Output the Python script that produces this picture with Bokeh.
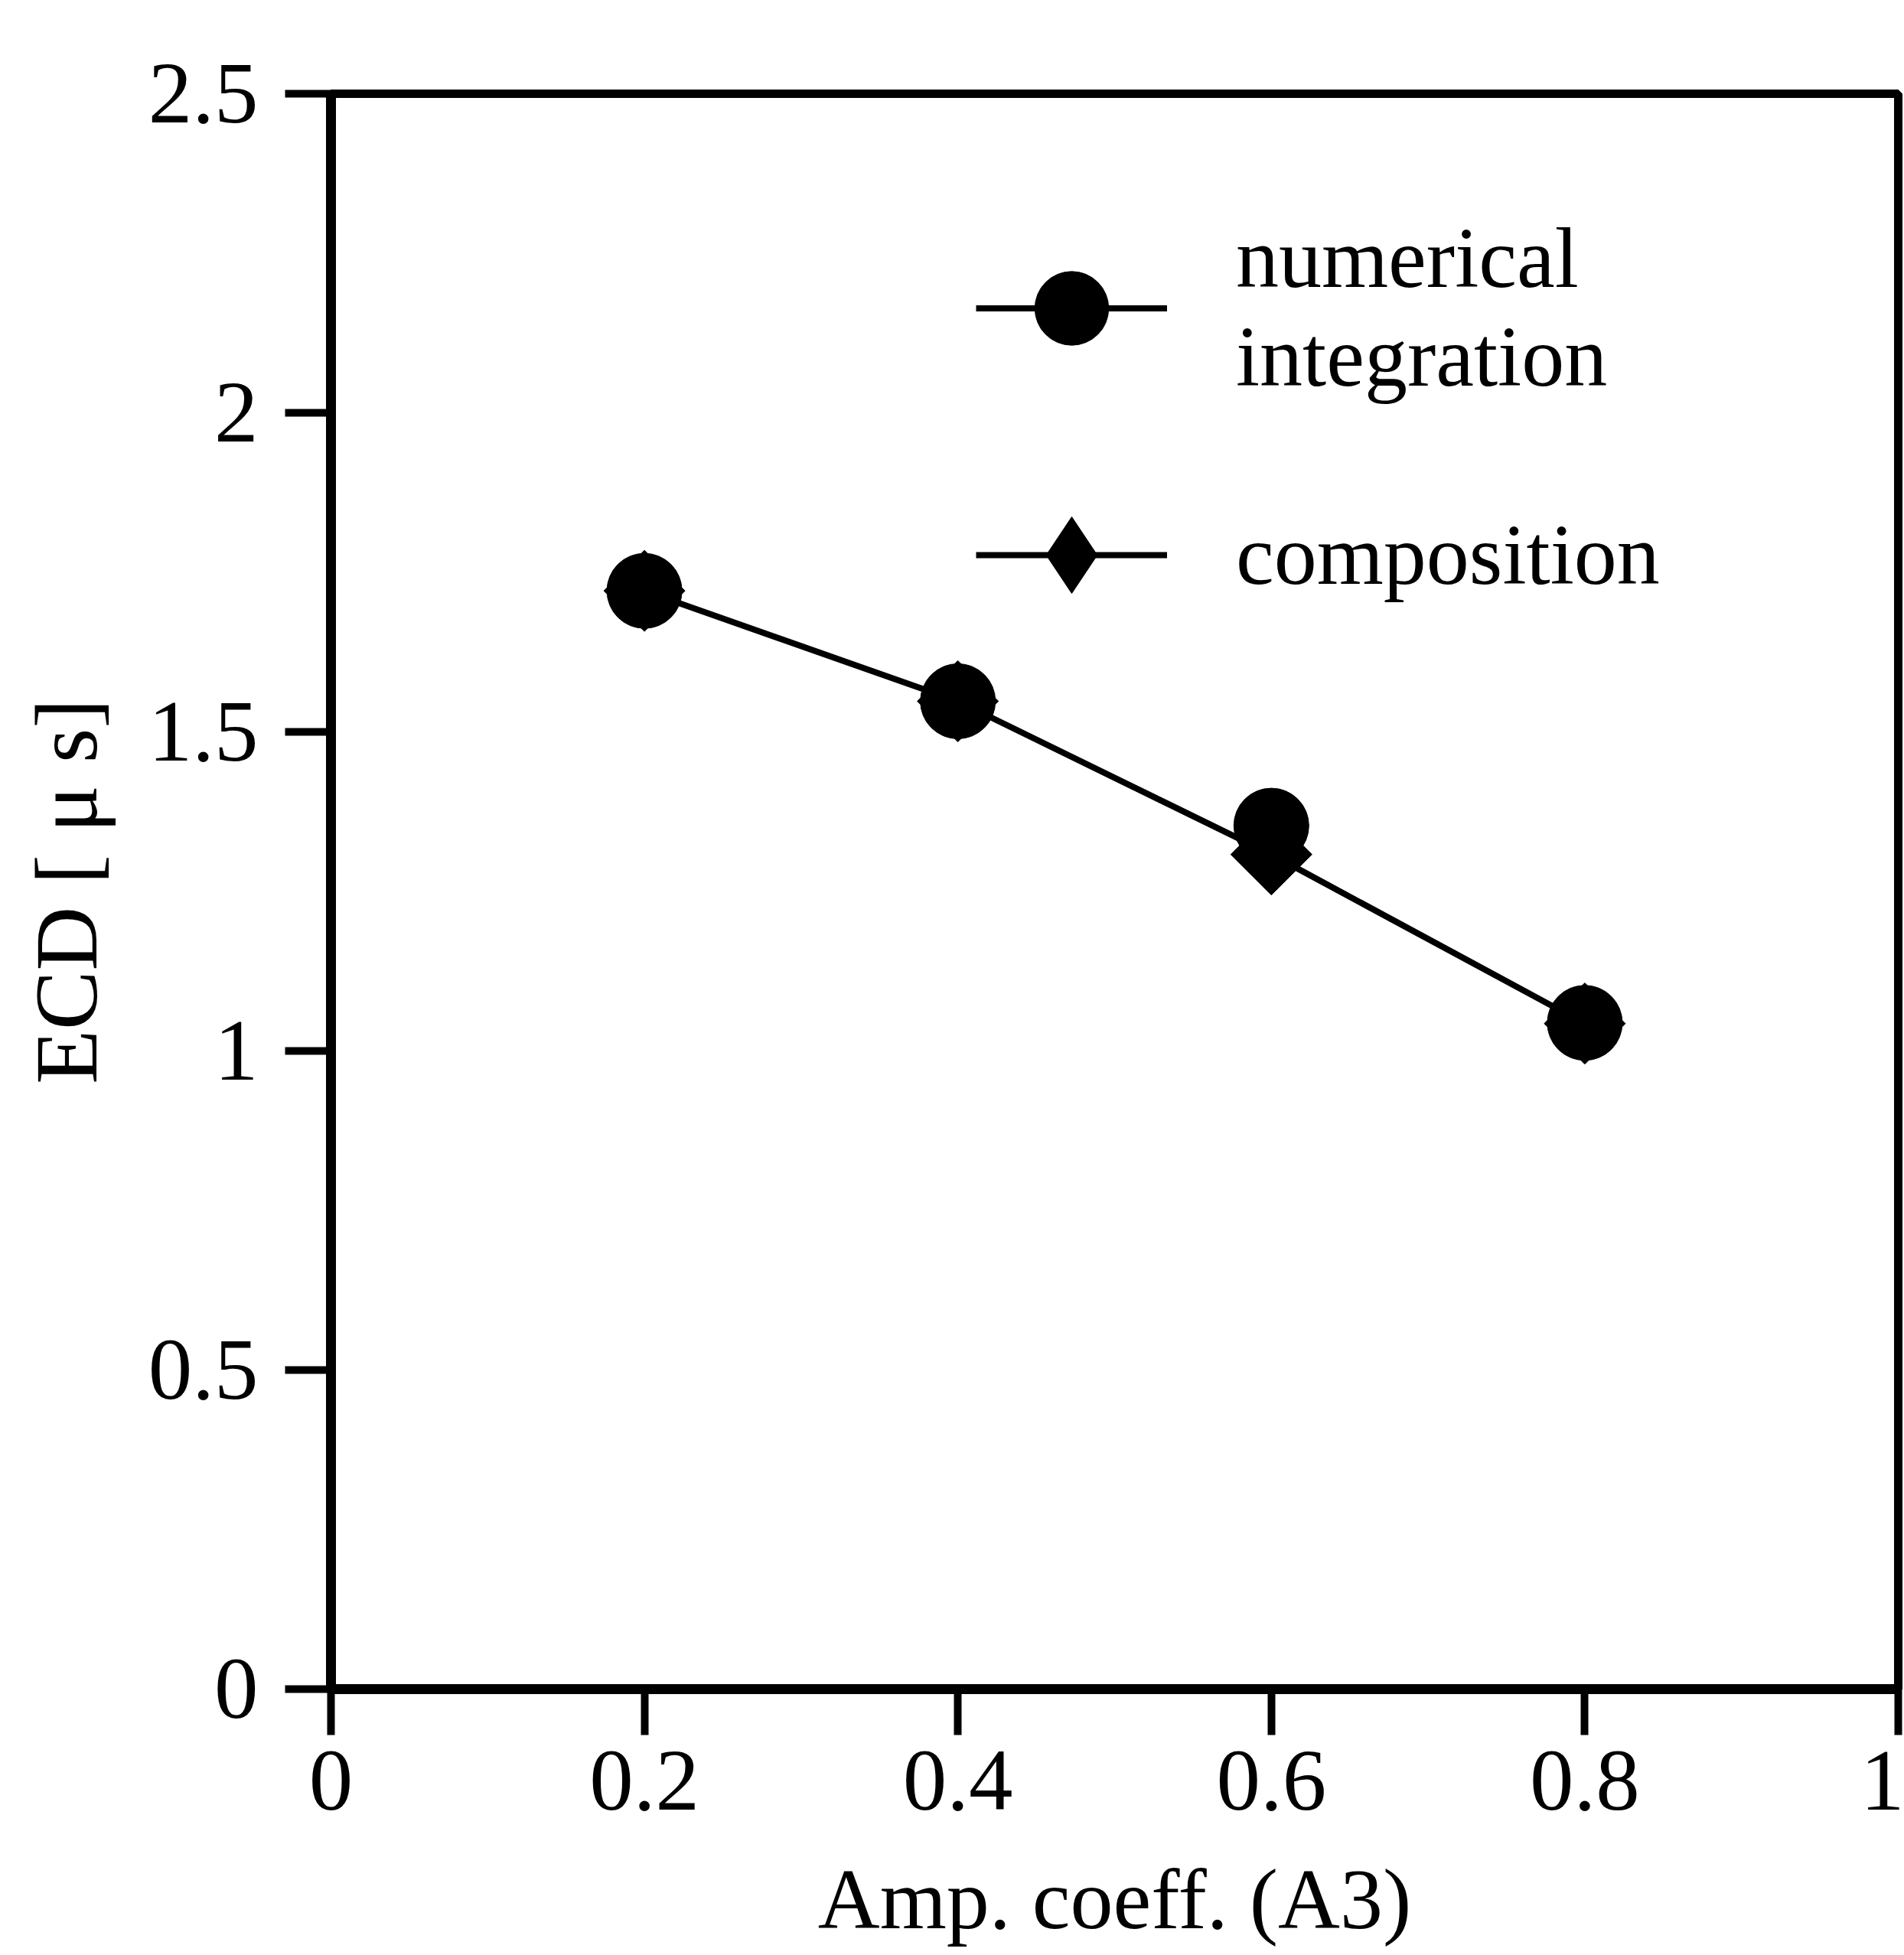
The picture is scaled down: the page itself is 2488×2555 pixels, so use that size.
import math
from bokeh.plotting import figure
from bokeh.models import Range1d, FixedTicker, Legend, LegendItem
from bokeh.embed import file_html
from bokeh.resources import INLINE

# ---- data ----
amp_coeff = [0.2, 0.4, 0.6, 0.8]
ecd_numerical = [1.721, 1.548, 1.353, 1.044]
ecd_composition = [1.721, 1.548, 1.308, 1.043]

x_ticks = [0, 0.2, 0.4, 0.6, 0.8, 1]
x_tick_labels = ["0", "0.2", "0.4", "0.6", "0.8", "1"]
y_ticks = [0, 0.5, 1, 1.5, 2, 2.5]
y_tick_labels = ["0", "0.5", "1", "1.5", "2", "2.5"]
x_title = "Amp. coeff. (A3)"
y_title = "ECD [ \u03bc s]"
series_labels = ["numerical\nintegration", "composition"]

FONT = "Liberation Serif"

p = figure(width=2488, height=2555, output_backend="svg", toolbar_location=None,
           x_range=Range1d(0, 1), y_range=Range1d(0, 2.5),
           min_border_left=432, min_border_right=8, min_border_top=122,
           min_border_bottom=348, background_fill_color="white",
           border_fill_color="white")

p.xgrid.visible = False
p.ygrid.visible = False
p.outline_line_color = "black"
p.outline_line_width = 11

for ax, ticks, labels in ((p.xaxis[0], x_ticks, x_tick_labels), (p.yaxis[0], y_ticks, y_tick_labels)):
    ax.ticker = FixedTicker(ticks=ticks)
    ax.major_label_overrides = {t: l for t, l in zip(ticks, labels)}
    ax.minor_tick_line_color = None
    ax.major_tick_in = 0
    ax.major_tick_out = 60
    ax.major_tick_line_width = 10
    ax.major_tick_line_color = "black"
    ax.axis_line_width = 13
    ax.axis_line_color = "black"
    ax.major_label_text_font = FONT
    ax.major_label_text_font_size = "115px"
    ax.major_label_text_color = "black"
    ax.axis_label_text_font = FONT
    ax.axis_label_text_font_style = "normal"
    ax.axis_label_text_color = "black"

p.xaxis.axis_label = x_title
p.yaxis.axis_label = y_title
p.xaxis.axis_label_text_font_size = "112px"
p.yaxis.axis_label_text_font_size = "116px"
p.xaxis.major_label_standoff = 22
p.yaxis.major_label_standoff = 35
p.xaxis.axis_label_standoff = 52
p.yaxis.axis_label_standoff = 40

comp_line = p.line(amp_coeff, ecd_composition, line_color="black", line_width=8)
num_pts = p.scatter(amp_coeff, ecd_numerical, marker="circle", size=98,
                    fill_color="black", line_color="black")
# diamond key (used by the legend); it lies wholly inside the turned squares below
comp_key = p.scatter(amp_coeff, ecd_composition, marker="diamond", size=96,
                     fill_color="black", line_color="black")
# composition markers: diamonds drawn as squares turned by 45 degrees
comp_pts = p.scatter(amp_coeff, ecd_composition, marker="square", size=75,
                     angle=math.pi / 4, fill_color="black", line_color="black")


def make_legend(label, renderers, glyph_h, loc):
    lg = Legend(items=[LegendItem(label=label, renderers=renderers)], location=loc)
    lg.glyph_width = 250
    lg.glyph_height = glyph_h
    lg.label_standoff = 90
    lg.label_text_font = FONT
    lg.label_text_font_size = "112px"
    lg.label_text_line_height = 1.5
    lg.label_text_color = "black"
    lg.padding = 0
    lg.margin = 0
    lg.spacing = 0
    lg.border_line_alpha = 0
    lg.background_fill_alpha = 0
    return lg


p.add_layout(make_legend(series_labels[0], [comp_line, num_pts], 241, (843, 1676)), "center")
p.add_layout(make_legend(series_labels[1], [comp_line, comp_key], 270, (843, 1347)), "center")

open("out.html", "w").write(file_html(p, INLINE))
